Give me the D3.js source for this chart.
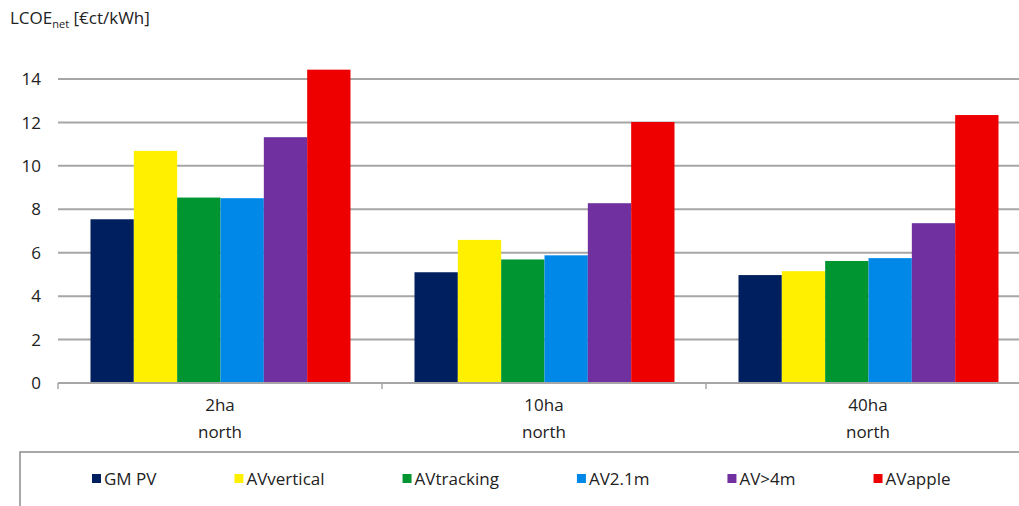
<!DOCTYPE html>
<html>
<head>
<meta charset="utf-8">
<script src="https://cdn.jsdelivr.net/npm/d3@7"></script>
<style>
  body { margin: 0; background: #fff; }
  text { font-family: "Open Sans", "Liberation Sans", sans-serif; fill: #222; }
</style>
</head>
<body>
<svg></svg>
<script>
var width = 1019
var height = 506

var categories = [["2ha", "north"], ["10ha", "north"], ["40ha", "north"]]
var seriesNames = ["GM PV", "AVvertical", "AVtracking", "AV2.1m", "AV>4m", "AVapple"]
var seriesColors = ["#001f5f", "#fff000", "#009530", "#0088e8", "#7030a0", "#ee0000"]
var gmpv = [7.54, 5.10, 4.97]
var avVertical = [10.69, 6.59, 5.15]
var avTracking = [8.54, 5.69, 5.62]
var av21m = [8.51, 5.88, 5.75]
var av4m = [11.32, 8.28, 7.36]
var avApple = [14.43, 12.02, 12.34]
var yTicks = [0, 2, 4, 6, 8, 10, 12, 14]

var values = [gmpv, avVertical, avTracking, av21m, av4m, avApple]

var plotLeft = 58
var plotRight = 1030
var plotTop = 79
var plotBottom = 383

var svg = d3.select("svg")
    .attr("width", width)
    .attr("height", height)

var xScale = d3.scaleBand()
    .domain(d3.range(categories.length))
    .range([plotLeft, plotRight])
    .paddingInner(0)

var xInner = d3.scaleBand()
    .domain(d3.range(seriesNames.length))
    .range([32.5, xScale.bandwidth() - 31.5])

var yScale = d3.scaleLinear()
    .domain([0, 14])
    .range([plotBottom, plotTop])

// gridlines
svg.append("g")
    .selectAll("line")
    .data(yTicks.slice(1))
    .enter()
    .append("line")
    .attr("x1", plotLeft)
    .attr("x2", plotRight)
    .attr("y1", d => yScale(d))
    .attr("y2", d => yScale(d))
    .attr("stroke", "#a6a6a6")
    .attr("stroke-width", 2)

// y labels
svg.append("g")
    .selectAll("text")
    .data(yTicks)
    .enter()
    .append("text")
    .attr("x", 41)
    .attr("y", d => yScale(d))
    .attr("dy", "0.36em")
    .attr("text-anchor", "end")
    .attr("font-size", 17)
    .text(d => d)

// bars
var groups = svg.append("g")
    .selectAll("g")
    .data(categories)
    .enter()
    .append("g")
    .attr("transform", (d, i) => `translate(${xScale(i)},0)`)

groups.selectAll("rect")
    .data((d, ci) => values.map((s, si) => ({ si: si, v: s[ci] })))
    .enter()
    .append("rect")
    .attr("x", d => xInner(d.si))
    .attr("width", xInner.bandwidth())
    .attr("y", d => yScale(d.v))
    .attr("height", d => yScale(0) - yScale(d.v))
    .attr("fill", d => seriesColors[d.si])

// x axis line and ticks
svg.append("line")
    .attr("x1", plotLeft)
    .attr("x2", plotRight)
    .attr("y1", plotBottom)
    .attr("y2", plotBottom)
    .attr("stroke", "#a6a6a6")
    .attr("stroke-width", 2)

svg.append("g")
    .selectAll("line")
    .data(d3.range(categories.length + 1))
    .enter()
    .append("line")
    .attr("x1", d => plotLeft + d * xScale.bandwidth())
    .attr("x2", d => plotLeft + d * xScale.bandwidth())
    .attr("y1", plotBottom)
    .attr("y2", plotBottom + 6)
    .attr("stroke", "#a6a6a6")
    .attr("stroke-width", 1.5)

var catLabels = svg.append("g")
    .selectAll("text")
    .data(categories)
    .enter()
    .append("text")
    .attr("x", (d, i) => xScale(i) + xScale.bandwidth() / 2)
    .attr("y", 411)
    .attr("text-anchor", "middle")
    .attr("font-size", 17)
    .attr("font-family", "'Liberation Sans Narrow', 'Open Sans', sans-serif")

catLabels.append("tspan").text(d => d[0])
catLabels.append("tspan")
    .attr("x", (d, i) => xScale(i) + xScale.bandwidth() / 2)
    .attr("dy", 27)
    .text(d => d[1])

// title
var title = svg.append("text")
    .attr("x", 10)
    .attr("y", 24)
    .attr("font-size", 17)
title.append("tspan").text("LCOE")
title.append("tspan").attr("font-size", 11).attr("dy", 4).text("net")
title.append("tspan").attr("dy", -4).text(" [€ct/kWh]")

// legend
svg.append("rect")
    .attr("x", 20)
    .attr("y", 452)
    .attr("width", 1100)
    .attr("height", 100)
    .attr("fill", "none")
    .attr("stroke", "#8c8c8c")
    .attr("stroke-width", 1.5)

var legend = svg.append("g")
var lx = 92
seriesNames.forEach(function (name, i) {
    var item = legend.append("g").attr("transform", `translate(${lx},0)`)
    item.append("rect")
        .attr("x", 0)
        .attr("y", 474)
        .attr("width", 9)
        .attr("height", 9)
        .attr("fill", seriesColors[i])
    var t = item.append("text")
        .attr("x", 12)
        .attr("y", 479)
        .attr("dy", "0.36em")
        .attr("font-size", 17)
        .text(name)
    lx += 12 + t.node().getComputedTextLength() + 78
})
</script>
</body>
</html>
